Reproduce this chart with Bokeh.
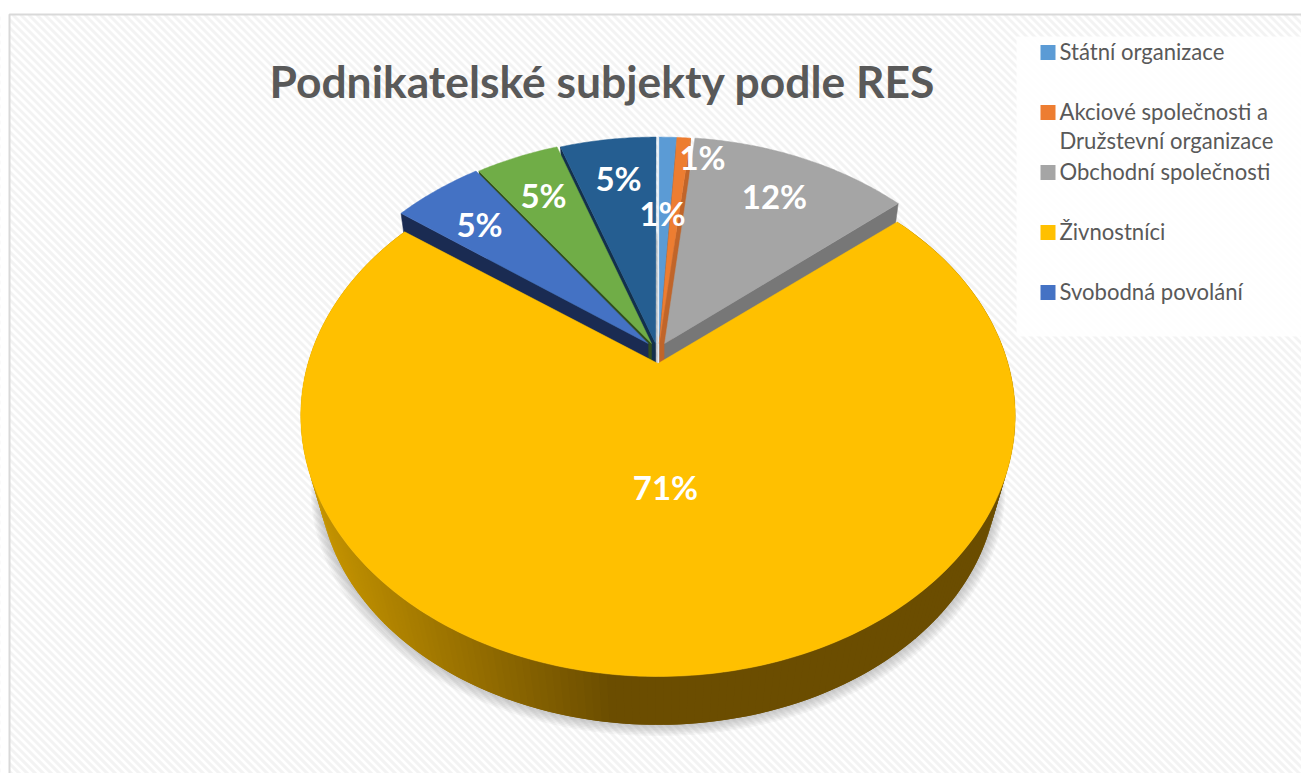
import math
from bokeh.plotting import figure
from bokeh.models import Range1d
from bokeh.core.properties import value
from bokeh.embed import file_html
from bokeh.resources import INLINE

title_text = "Podnikatelské subjekty podle RES"
categories = ["Státní organizace", "Akciové společnosti a\nDružstevní organizace",
              "Obchodní společnosti", "Živnostníci", "Svobodná povolání", "", ""]
values = [1.0, 0.75, 12.25, 71.0, 5.0, 4.63, 5.37]
labels = ["1%", "1%", "12%", "71%", "5%", "5%", "5%"]
top_colors = ["#5B9BD5", "#ED7D31", "#A5A5A5", "#FFC000", "#4472C4", "#70AD47", "#255E91"]
wall_colors = ["#3A6A96", "#C0652A", "#777777", "#6B4D00", "#1A2B52", "#334F1E", "#13304C"]

# layout (page pixels)
W, H = 1301, 773
CX, CY = 657.5, 363.0
A, B, K = 350.0, 250.4, 0.2
BOT_S, BOT_CY = 0.95, 427.0
LIFT = 20.0
EXPLODE_X = 0.04
RX, RY = 0.978, 0.987
label_pos = [(662, 212), (702, 156), (774, 195), (665, 486), (479, 223), (543, 194), (618, 177)]

p = figure(width=W, height=H, output_backend="svg", toolbar_location=None,
           x_range=Range1d(0, W), y_range=Range1d(H, 0),
           min_border=0, outline_line_color=None, background_fill_color="white", border_fill_color="white")
p.axis.visible = False
p.grid.visible = False

# chart area with hatching and border
left, top = 9, 14
starts = list(range(-780, 1320, 8))
p.multi_line([[x, x + 800] for x in starts], [[top, top + 800] for _ in starts],
             line_color="#F3F3F3", line_width=3)
p.quad(left=[0], right=[left], top=[0], bottom=[H], fill_color="white", line_color=None)
p.quad(left=[0], right=[W], top=[0], bottom=[top], fill_color="white", line_color=None)
p.line([left, left, W], [H, top, top], line_color="#D9D9D9", line_width=2)


def top_pt(u, v, lift=0.0):
    d = 1 - K * v
    return CX + A * u / d, CY - lift + B * v / d


def bot_pt(u, v):
    d = 1 - K * v
    return CX + BOT_S * A * u / d, BOT_CY + BOT_S * B * v / d


def arc(a0, a1, n=None):
    n = n or max(2, int(abs(a1 - a0) * 120))
    return [a0 + (a1 - a0) * i / n for i in range(n + 1)]


def mix(c0, c1, t):
    t = max(0, min(1, t))
    a = [int(c0[i:i + 2], 16) for i in (1, 3, 5)]
    b = [int(c1[i:i + 2], 16) for i in (1, 3, 5)]
    return "#%02X%02X%02X" % tuple(round(x + (y - x) * t) for x, y in zip(a, b))


total = sum(values)
acc = 0
slices = []
for v in values:
    a0 = acc / total * 2 * math.pi
    acc += v
    slices.append((a0, acc / total * 2 * math.pi))

yi = 3
# soft shadow under the pie
for grow in range(14, 0, -2):
    xs, ys = [], []
    for a in arc(0, 2 * math.pi, 200):
        x, y = bot_pt(math.sin(a), -math.cos(a))
        xs.append(CX + (x - CX) * (1 + grow / 600))
        ys.append(y + grow * 0.8)
    p.patch(xs, ys, fill_color="#707070", fill_alpha=0.06, line_color=None)

# side of the big slice, shaded from the left (overlapping strips)
a0, a1 = slices[yi]
angs = arc(a0, a1, 240)
wx, wy, wc = [], [], []
for i in range(len(angs) - 1):
    s, e = angs[i], angs[min(i + 2, len(angs) - 1)]
    q0 = top_pt(math.sin(s), -math.cos(s))
    q1 = top_pt(math.sin(e), -math.cos(e))
    r1 = bot_pt(math.sin(e), -math.cos(e))
    r0 = bot_pt(math.sin(s), -math.cos(s))
    wx.append([q0[0], q1[0], r1[0], r0[0]])
    wy.append([q0[1], q1[1], r1[1], r0[1]])
    t = (r0[0] - CX + 340) / 340
    wc.append(mix("#C99700", "#6B4D00", t / 0.88))
p.patches(wx, wy, fill_color=wc, line_color=None)


def rim_points(a0, a1):
    du = EXPLODE_X * math.sin((a0 + a1) / 2)
    return du, [(RX * math.sin(a) + du, -RY * math.cos(a)) for a in arc(a0, a1)]


# the small slices, raised and moved out from the centre:
# the visible side is the outer straight edge; the outermost side is drawn last
n = len(slices)
for i in list(range(yi)) + list(range(n - 1, yi, -1)):
    a0, a1 = slices[i]
    du, rim = rim_points(a0, a1)
    apex = (du, 0.0)
    e = rim[-1] if i < yi else rim[0]
    t0, t1 = top_pt(*apex, LIFT), top_pt(*e, LIFT)
    b1, b0 = bot_pt(*e), bot_pt(*apex)
    p.patch([t0[0], t1[0], b1[0], b0[0]], [t0[1], t1[1], b1[1], b0[1]],
            fill_color=wall_colors[i], line_color=wall_colors[i], line_width=0.5)
for i, (a0, a1) in enumerate(slices):
    if i == yi:
        continue
    du, rim = rim_points(a0, a1)
    pts = [top_pt(du, 0.0, LIFT)] + [top_pt(*e, LIFT) for e in rim]
    p.patch([q[0] for q in pts], [q[1] for q in pts], fill_color=top_colors[i], line_color=top_colors[i], line_width=0.5)
    if i == 0:
        p.line([pts[0][0], pts[1][0]], [CY, pts[1][1]], line_color="#E4ECF4", line_width=1.5)

# big slice on top
a0, a1 = slices[yi]
pts = [top_pt(0, 0)] + [top_pt(math.sin(a), -math.cos(a)) for a in arc(a0, a1, 300)]
p.patch([q[0] for q in pts], [q[1] for q in pts], fill_color=top_colors[yi], line_color=top_colors[yi], line_width=0.5)

# data labels
p.text([q[0] for q in label_pos], [q[1] for q in label_pos], text=labels, text_color="white",
       text_font=value("Lato"), text_font_style="bold", text_font_size="33px",
       text_align="center", text_baseline="middle")

# title
p.text([602], [80], text=[title_text], text_color="#595959", text_font=value("Lato"), text_font_style="bold",
       text_font_size="44.4px", text_align="center", text_baseline="middle")

# legend
p.quad(left=[1016], right=[W], top=[36], bottom=[336], fill_color="white", fill_alpha=0.85, line_color=None)
leg_y = [52, 112, 172, 232, 292]
for name, c, y in zip(categories[:5], top_colors[:5], leg_y):
    p.quad(left=[1040], right=[1055], top=[y - 7.5], bottom=[y + 7.5], fill_color=c, line_color=None)
    for j, line in enumerate(name.split("\n")):
        p.text([1059], [y - 1 + j * 29], text=[line], text_color="#595959", text_font=value("Lato"),
               text_font_size="22.1px", text_align="left", text_baseline="middle")

open("out.html", "w").write(file_html(p, INLINE))
